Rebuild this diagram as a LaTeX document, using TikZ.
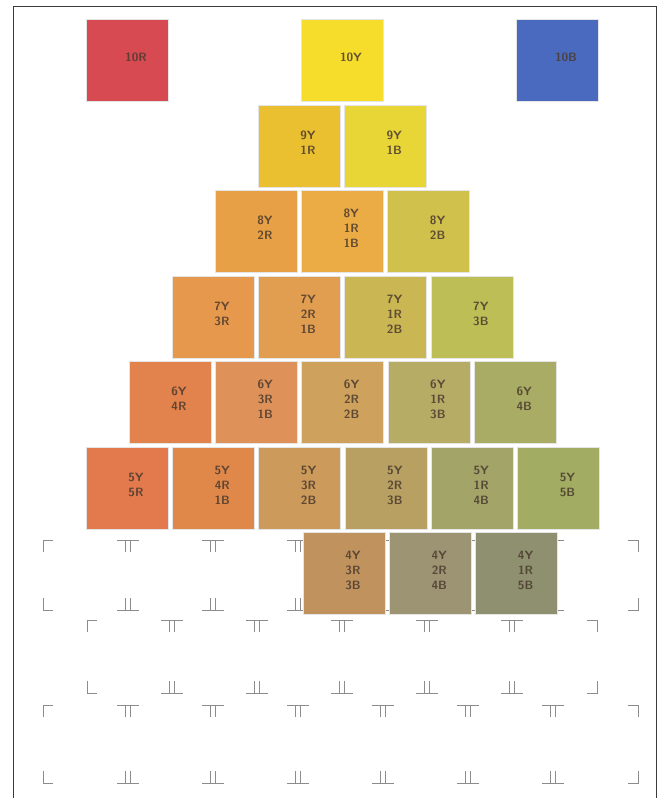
\documentclass[tikz,border=0pt]{standalone}
\usepackage{tikz}
\usetikzlibrary{positioning}
\definecolor{ink}{HTML}{4A3A2E}
\definecolor{framec}{HTML}{3A3A3A}
\definecolor{c10r}{HTML}{D84A52}
\definecolor{c10y}{HTML}{F6DD2C}
\definecolor{c10b}{HTML}{4A6AC0}
\definecolor{c9r}{HTML}{EBC030}
\definecolor{c9b}{HTML}{E8D636}
\definecolor{c8r}{HTML}{E8A046}
\definecolor{c8m}{HTML}{EBAC46}
\definecolor{c8b}{HTML}{D0C04C}
\definecolor{c7r}{HTML}{E6984C}
\definecolor{c7m}{HTML}{E29E50}
\definecolor{c7n}{HTML}{CAB652}
\definecolor{c7b}{HTML}{BEBE56}
\definecolor{c6r}{HTML}{E2824C}
\definecolor{c6m}{HTML}{DE925A}
\definecolor{c6n}{HTML}{CEA25C}
\definecolor{c6o}{HTML}{B6AC66}
\definecolor{c6b}{HTML}{A8AC64}
\definecolor{c5r}{HTML}{E27A4E}
\definecolor{c5m}{HTML}{E0884A}
\definecolor{c5n}{HTML}{CC9A5A}
\definecolor{c5o}{HTML}{B8A062}
\definecolor{c5p}{HTML}{A2A468}
\definecolor{c5b}{HTML}{A2AC62}
\definecolor{c4m}{HTML}{C0925E}
\definecolor{c4n}{HTML}{9C9472}
\definecolor{c4o}{HTML}{8E9070}

\begin{document}
\begin{tikzpicture}[x=1pt,y=-1pt,node distance=4pt,
swatch/.style={minimum size=82pt,inner sep=0pt,draw=black!10,line width=.3pt},
tag/.style={xshift=9pt,yshift=3pt,align=center,text=ink,opacity=.85,
  font=\sffamily\bfseries\fontsize{12}{15}\selectfont},
crop/.style={draw=black!45,line width=1pt},
frame/.style={draw=framec,line width=1pt}]
\useasboundingbox (0,0) rectangle (664,798);
\fill[white] (0,0) rectangle (664,798);
\draw[frame] (13,798) -- (13,6) -- (656,6) -- (656,798);
% crop marks
\foreach \ya/\yb/\xa/\xb/\n in {540/610/43/638/6, 705/783/43/638/6, 620/693/87/597/5}{
  \draw[crop] (\xa,\ya+12) -- (\xa,\ya) -- (\xa+10,\ya);
  \draw[crop] (\xb-10,\ya) -- (\xb,\ya) -- (\xb,\ya+12);
  \draw[crop] (\xa,\yb-12) -- (\xa,\yb) -- (\xa+10,\yb);
  \draw[crop] (\xb-10,\yb) -- (\xb,\yb) -- (\xb,\yb-12);
  \foreach \k in {1,...,\n}{
    \pgfmathsetmacro\mx{\xa+85*\k}
    \draw[crop] (\mx-11,\ya) -- (\mx+11,\ya) (\mx-2.5,\ya) -- (\mx-2.5,\ya+12) (\mx+2.5,\ya) -- (\mx+2.5,\ya+12);
    \draw[crop] (\mx-11,\yb) -- (\mx+11,\yb) (\mx-2.5,\yb) -- (\mx-2.5,\yb-12) (\mx+2.5,\yb) -- (\mx+2.5,\yb-12);
  }
}
% primaries
\node[swatch,fill=c10r,label={[tag]center:10R}] (r10) at (127,60) {};
\node[swatch,fill=c10y,label={[tag]center:10Y}] (y10) at (342,60) {};
\node[swatch,fill=c10b,label={[tag]center:10B}] (b10) at (557,60) {};
% 9Y
\node[swatch,fill=c9r,label={[tag]center:9Y\\1R}] (y9r1) at (299,146) {};
\node[swatch,fill=c9b,label={[tag]center:9Y\\1B},right=of y9r1] (y9b1) {};
% 8Y
\node[swatch,fill=c8r,label={[tag]center:8Y\\2R}] (y8r2) at (256,231) {};
\node[swatch,fill=c8m,label={[tag]center:8Y\\1R\\1B},right=of y8r2] (y8r1b1) {};
\node[swatch,fill=c8b,label={[tag]center:8Y\\2B},right=of y8r1b1] (y8b2) {};
% 7Y
\node[swatch,fill=c7r,label={[tag]center:7Y\\3R}] (y7r3) at (213,317) {};
\node[swatch,fill=c7m,label={[tag]center:7Y\\2R\\1B},right=of y7r3] (y7r2b1) {};
\node[swatch,fill=c7n,label={[tag]center:7Y\\1R\\2B},right=of y7r2b1] (y7r1b2) {};
\node[swatch,fill=c7b,label={[tag]center:7Y\\3B},right=of y7r1b2] (y7b3) {};
% 6Y
\node[swatch,fill=c6r,label={[tag]center:6Y\\4R}] (y6r4) at (170,402) {};
\node[swatch,fill=c6m,label={[tag]center:6Y\\3R\\1B},right=of y6r4] (y6r3b1) {};
\node[swatch,fill=c6n,label={[tag]center:6Y\\2R\\2B},right=of y6r3b1] (y6r2b2) {};
\node[swatch,fill=c6o,label={[tag]center:6Y\\1R\\3B},right=of y6r2b2] (y6r1b3) {};
\node[swatch,fill=c6b,label={[tag]center:6Y\\4B},right=of y6r1b3] (y6b4) {};
% 5Y
\node[swatch,fill=c5r,label={[tag]center:5Y\\5R}] (y5r5) at (127,488) {};
\node[swatch,fill=c5m,label={[tag]center:5Y\\4R\\1B},right=of y5r5] (y5r4b1) {};
\node[swatch,fill=c5n,label={[tag]center:5Y\\3R\\2B},right=of y5r4b1] (y5r3b2) {};
\node[swatch,fill=c5o,label={[tag]center:5Y\\2R\\3B},right=of y5r3b2] (y5r2b3) {};
\node[swatch,fill=c5p,label={[tag]center:5Y\\1R\\4B},right=of y5r2b3] (y5r1b4) {};
\node[swatch,fill=c5b,label={[tag]center:5Y\\5B},right=of y5r1b4] (y5b5) {};
% 4Y
\node[swatch,fill=c4m,label={[tag]center:4Y\\3R\\3B}] (y4r3b3) at (344,573) {};
\node[swatch,fill=c4n,label={[tag]center:4Y\\2R\\4B},right=of y4r3b3] (y4r2b4) {};
\node[swatch,fill=c4o,label={[tag]center:4Y\\1R\\5B},right=of y4r2b4] (y4r1b5) {};
\end{tikzpicture}
\end{document}
